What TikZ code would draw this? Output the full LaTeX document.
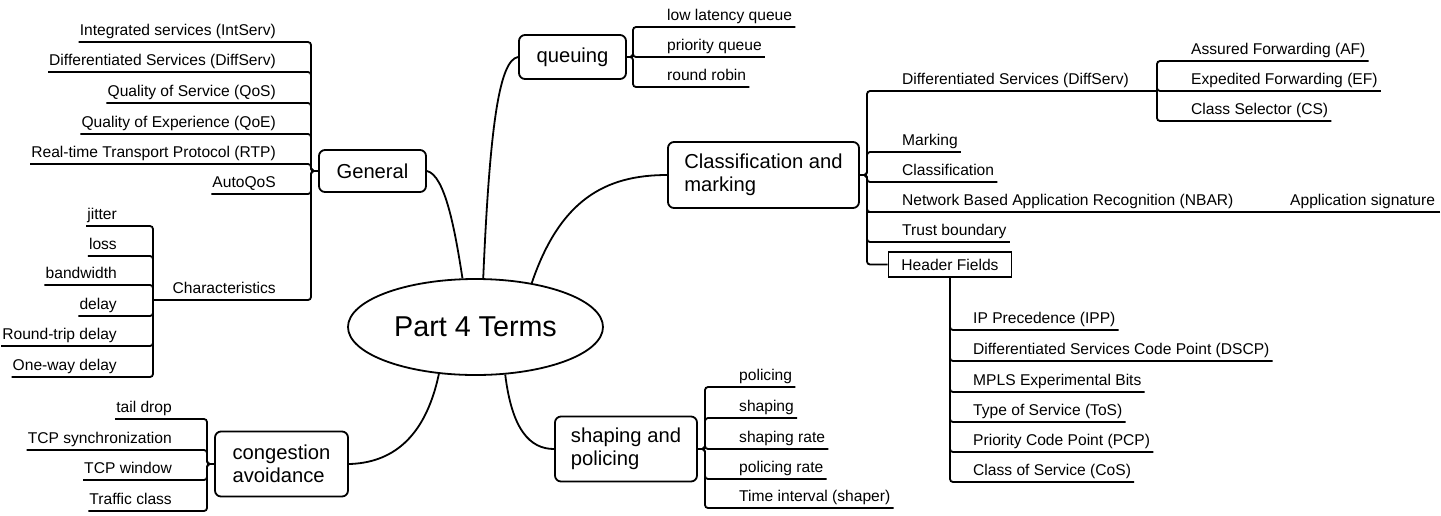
\documentclass[tikz,border=0pt]{standalone}
\usepackage{fontspec}
\setmainfont{Liberation Sans}
\usetikzlibrary{shapes.geometric}

\begin{document}
\begin{tikzpicture}[x=1pt, y=-1pt,
    link/.style={line width=1.8pt, rounded corners=3pt},
    leaf/.style={inner sep=0pt, font=\fontsize{15.6}{18}\selectfont},
    topic/.style={draw, line width=1.8pt, rounded corners=6pt, align=left,
                  font=\fontsize{20.2}{23.5}\selectfont}]
    \useasboundingbox (0,0) rectangle (1441,515);

    % Central topic and the five main branches
    \node[draw, ellipse, line width=1.8pt, minimum width=255pt, minimum height=96pt,
          font=\fontsize{28.7}{32}\selectfont] (root) at (475.5,327) {Part 4 Terms};
    \node[topic, minimum width=107pt, minimum height=42pt] (general) at (372.5,171) {General};
    \node[topic, minimum width=107pt, minimum height=44pt] (queuing) at (572.5,57) {queuing};
    \node[topic, minimum width=191pt, minimum height=66pt] (classify) at (763.5,175) {Classification and\\marking};
    \node[topic, minimum width=133pt, minimum height=65pt] (congestion) at (281.5,464) {congestion\\avoidance};
    \node[topic, minimum width=142pt, minimum height=65pt] (shaping) at (626,449) {shaping and\\policing};

    % Curved links from the centre
    \draw[link] (root.105) .. controls (455,230) and (445,175) .. (general.east);
    \draw[link] (root.81) .. controls (490,120) and (500,60) .. (queuing.west);
    \draw[link] (root.38) .. controls (560,200) and (605,175) .. (classify.west);
    \draw[link] (root.302) .. controls (512,430) and (530,449) .. (shaping.west);
    \draw[link] (root.232) .. controls (425,440) and (390,463) .. (congestion.east);

    % General: leaves to the left of the spine at x=311
    \foreach \y/\txt [count=\i] in {42/Integrated services (IntServ),
        72/Differentiated Services (DiffServ), 103/Quality of Service (QoS),
        134/Quality of Experience (QoE), 164/Real-time Transport Protocol (RTP),
        194/AutoQoS} {
        \node[leaf, anchor=base east] (gen\i) at (276,\y-7) {\txt};
        \draw[link] (gen\i.base west) ++(-1,7) -- (311,\y) -- (311,171) -- (general.west);
    }
    \coordinate (charspine) at (153,300);
    \node[leaf, anchor=base east] (chars) at (276,293) {Characteristics};
    \draw[link] (charspine) -- (311,300) -- (311,171) -- (general.west);

    % Characteristics: spine at x=153
    \foreach \y/\txt [count=\i] in {226/jitter, 256/loss, 285/bandwidth, 316/delay,
        346/Round-trip delay, 377/One-way delay} {
        \node[leaf, anchor=base east] (char\i) at (117,\y-7) {\txt};
        \draw[link] (char\i.base west) ++(-1,7) -- (153,\y) -- (charspine);
    }

    % congestion avoidance: spine at x=207
    \foreach \y/\txt [count=\i] in {419/tail drop, 450/TCP synchronization,
        480/TCP window, 511/Traffic class} {
        \node[leaf, anchor=base east] (cong\i) at (172,\y-7) {\txt};
        \draw[link] (cong\i.base west) ++(-1,7) -- (207,\y) -- (207,464) -- (congestion.west);
    }

    % queuing: spine at x=633
    \foreach \y/\txt [count=\i] in {27/low latency queue, 57/priority queue, 87/round robin} {
        \node[leaf, anchor=base west] (que\i) at (667,\y-7) {\txt};
        \draw[link] (que\i.base east) ++(3,7) -- (633,\y) -- (633,57) -- (queuing.east);
    }

    % Classification and marking: spine at x=867
    \foreach \y/\txt [count=\i] in {91/Differentiated Services (DiffServ), 152/Marking,
        182/Classification, 212/Network Based Application Recognition (NBAR),
        242/Trust boundary} {
        \node[leaf, anchor=base west] (cls\i) at (902,\y-7) {\txt};
        \draw[link] (cls\i.base east) ++(3,7) -- (867,\y) -- (867,175) -- (classify.east);
    }
    \node[draw, line width=1.8pt, minimum width=123pt, minimum height=25pt, inner sep=0pt,
          font=\fontsize{15.6}{18}\selectfont] (header) at (950,264.5) {Header Fields};
    \draw[link] (header.west) -- (867,264.5) -- (867,175) -- (classify.east);

    % DiffServ classes: spine at x=1157
    \coordinate (dsspine) at (1157,91);
    \draw[link] (cls1.base east) ++(3,7) -- (dsspine);
    \foreach \y/\txt [count=\i] in {61/Assured Forwarding (AF), 91/Expedited Forwarding (EF),
        121/Class Selector (CS)} {
        \node[leaf, anchor=base west] (ds\i) at (1191,\y-7) {\txt};
        \draw[link] (ds\i.base east) ++(3,7) -- (1157,\y) -- (dsspine);
    }

    % NBAR has a single child on the same line
    \node[leaf, anchor=base west] (appsig) at (1290,205) {Application signature};
    \draw[link] (appsig.base east) ++(5,7) -- (867,212);

    % Header Fields: spine at x=950 below the box
    \foreach \y/\txt [count=\i] in {330/IP Precedence (IPP),
        361/Differentiated Services Code Point (DSCP), 392/MPLS Experimental Bits,
        422/Type of Service (ToS), 452/Priority Code Point (PCP), 482/Class of Service (CoS)} {
        \node[leaf, anchor=base west] (hdr\i) at (973,\y-7) {\txt};
        \draw[link] (hdr\i.base east) ++(3,7) -- (950,\y) -- (header.south);
    }

    % shaping and policing: spine at x=705
    \foreach \y/\txt [count=\i] in {387/policing, 418/shaping, 449/shaping rate,
        479/policing rate, 508/Time interval (shaper)} {
        \node[leaf, anchor=base west] (shp\i) at (739,\y-7) {\txt};
        \draw[link] (shp\i.base east) ++(3,7) -- (705,\y) -- (705,449) -- (shaping.east);
    }
\end{tikzpicture}
\end{document}
